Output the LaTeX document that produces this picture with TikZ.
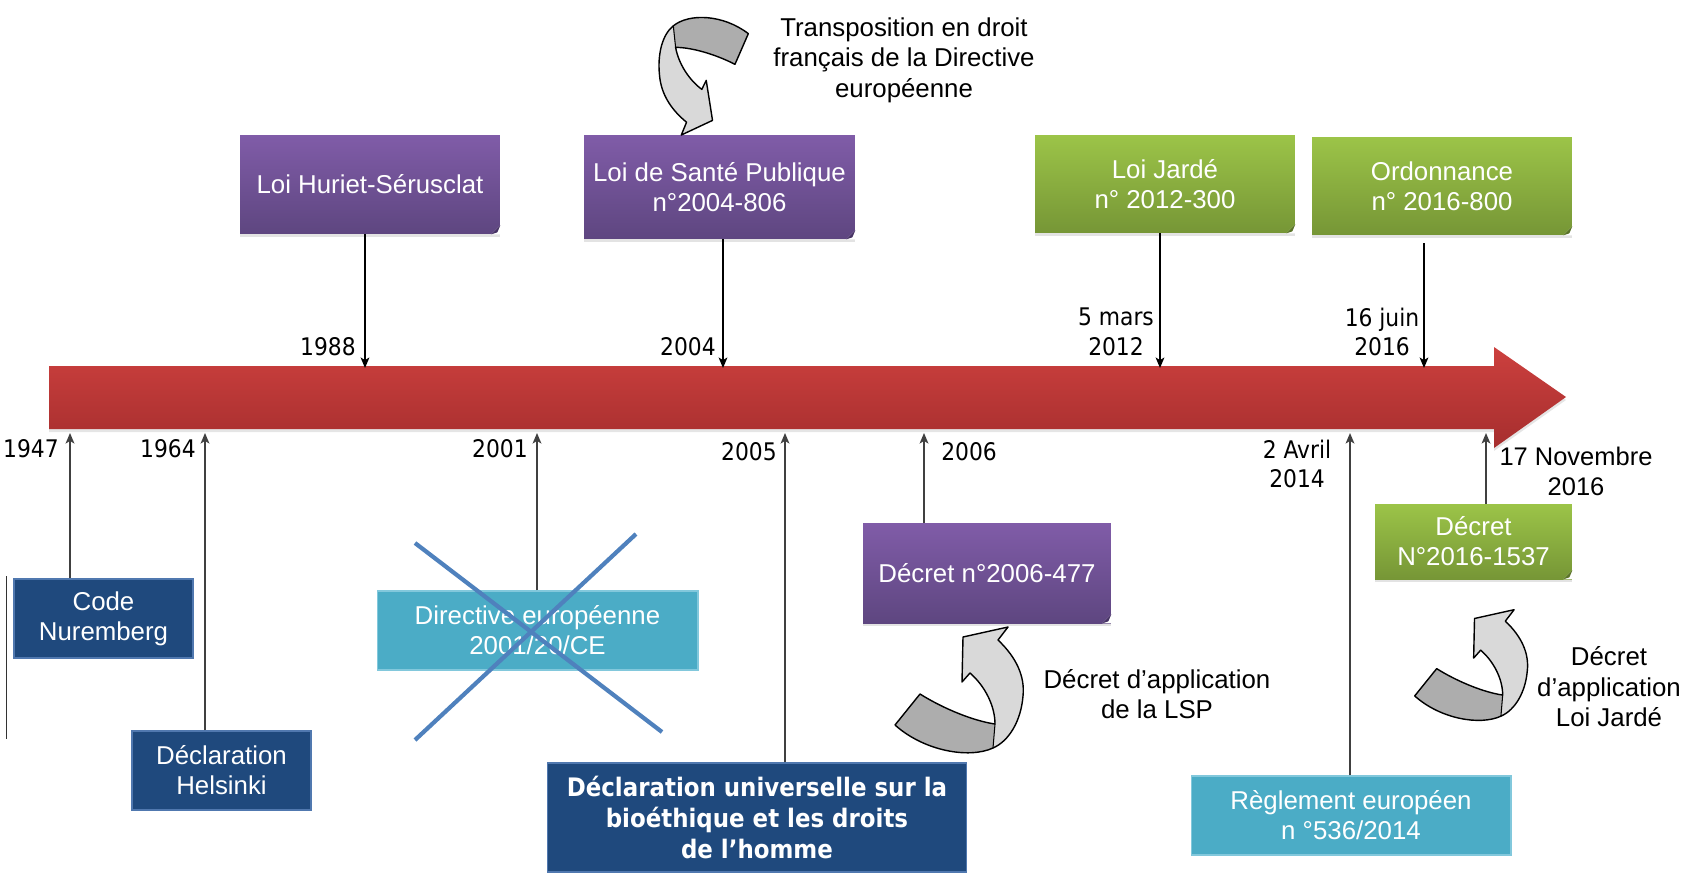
\documentclass[tikz,border=0pt]{standalone}
\usepackage{fontspec}
\setmainfont{Liberation Sans}
\newfontfamily\datefont{DejaVu Sans Condensed}
\usetikzlibrary{arrows.meta, shadows}

\definecolor{arrowtop}{RGB}{204,64,62}
\definecolor{arrowbot}{RGB}{166,46,46}
\definecolor{violettop}{RGB}{128,92,168}
\definecolor{violetbot}{RGB}{94,70,128}
\definecolor{violetfold}{RGB}{70,50,100}
\definecolor{greentop}{RGB}{156,196,72}
\definecolor{greenbot}{RGB}{118,150,54}
\definecolor{greenfold}{RGB}{90,115,40}
\definecolor{navy}{RGB}{31,73,125}
\definecolor{navyline}{RGB}{80,120,175}
\definecolor{aqua}{RGB}{75,172,198}
\definecolor{aqualine}{RGB}{130,200,220}
\definecolor{crossblue}{RGB}{79,129,189}

\newcommand{\boxfont}{\fontsize{14.7}{17}\selectfont}

% bent grey arrow, drawn round (0,0)
\newcommand{\bentarrow}{%
  \fill[black!15] (4,-54) -- (49,-64) -- (39,-51)
    .. controls (58,-33) and (66,-14) .. (64,5)
    .. controls (62,30) and (50,50) .. (34,57)
    .. controls (10,68) and (-35,60) .. (-64,34)
    -- (-39,3) .. controls (-15,18) and (15,30) .. (36,33)
    .. controls (36,15) and (26,-5) .. (11,-18) -- (3,-9) -- cycle;
  \fill[black!32] (-64,34) -- (-39,3) .. controls (-15,18) and (15,30) .. (36,33)
    -- (34,57) .. controls (10,68) and (-35,60) .. (-64,34) -- cycle;
  \draw[line width=0.8pt, line join=round] (4,-54) -- (49,-64) -- (39,-51)
    .. controls (58,-33) and (66,-14) .. (64,5)
    .. controls (62,30) and (50,50) .. (34,57)
    .. controls (10,68) and (-35,60) .. (-64,34)
    -- (-39,3) .. controls (-15,18) and (15,30) .. (36,33)
    .. controls (36,15) and (26,-5) .. (11,-18) -- (3,-9) -- cycle;
  \draw[line width=0.6pt] (36,33) -- (34,57);
}

\begin{document}
\begin{tikzpicture}[x=0.02cm, y=-0.02cm,
  lawbox/.style={rectangle, inner sep=0pt, text=white, align=center, font=\boxfont},
  violetbox/.style={lawbox, top color=violettop, bottom color=violetbot,
    drop shadow={shadow xshift=0pt, shadow yshift=-1.5pt, opacity=.22}},
  greenbox/.style={lawbox, top color=greentop, bottom color=greenbot,
    drop shadow={shadow xshift=0pt, shadow yshift=-1.5pt, opacity=.22}},
  navybox/.style={lawbox, fill=navy, draw=navyline, line width=0.6pt},
  aquabox/.style={lawbox, fill=aqua, draw=aqualine, line width=0.6pt},
  datelbl/.style={font={\datefont\fontsize{13.8}{17}\selectfont}, align=center, inner sep=0pt},
  notelbl/.style={font={\fontsize{14.7}{17.4}\selectfont}, align=center, inner sep=0pt},
  pindown/.style={-{Stealth[length=6pt,width=5pt,inset=1.5pt]}, line width=0.7pt},
  pinup/.style={-{Stealth[length=6pt,width=5pt,inset=1.5pt]}, line width=0.9pt, black!75}]
\useasboundingbox (0,0) rectangle (1691,880);

% Timeline
\fill[black, opacity=.1] (49,369) -- (1494,369) -- (1494,350) -- (1566,400) -- (1494,451) -- (1494,432) -- (49,432) -- cycle;
\shade[top color=arrowtop, bottom color=arrowbot] (49,366) -- (1494,366) -- (1494,347) -- (1566,397) -- (1494,448) -- (1494,429) -- (49,429) -- cycle;

\coordinate (t1988) at (365,368);
\coordinate (t2004) at (723,368);
\coordinate (t2012) at (1160,368);
\coordinate (t2016a) at (1424,368);
\coordinate (b1947) at (70,433);
\coordinate (b1964) at (205,433);
\coordinate (b2001) at (537,433);
\coordinate (b2005) at (785,433);
\coordinate (b2006) at (924,433);
\coordinate (b2014) at (1350,433);
\coordinate (b2016b) at (1486,433);

% Laws above
\node[violetbox, minimum width=5.2cm, minimum height=1.98cm] (huriet) at (370,184.5) {Loi Huriet-Sérusclat};
\node[violetbox, minimum width=5.42cm, minimum height=2.08cm] (lsp) at (719.5,187) {Loi de Santé Publique\\n°2004-806};
\node[greenbox, minimum width=5.2cm, minimum height=1.96cm] (jarde) at (1165,184) {Loi Jardé\\n° 2012-300};
\node[greenbox, minimum width=5.2cm, minimum height=1.96cm] (ordo) at (1442,186) {Ordonnance\\n° 2016-800};

% Texts below
\node[navybox, minimum width=3.58cm, minimum height=1.58cm] (nuremberg) at (103.5,618.5) {Code\\Nuremberg};
\node[navybox, minimum width=3.58cm, minimum height=1.58cm] (helsinki) at (221.5,770.5) {Déclaration\\Helsinki};
\node[aquabox, minimum width=6.42cm, minimum height=1.58cm] (directive) at (537.5,630.5) {Directive européenne\\2001/20/CE};
\node[navybox, minimum width=8.4cm, minimum height=2.18cm,
  font={\datefont\bfseries\fontsize{14.5}{17.7}\selectfont}] (unesco) at (757,817.5)
  {Déclaration universelle sur la\\bioéthique et les droits\\de l’homme};
\node[violetbox, minimum width=4.96cm, minimum height=2cm] (decret2006) at (987,573) {Décret n°2006-477};
\node[aquabox, minimum width=6.4cm, minimum height=1.58cm] (reglement) at (1351,815.5) {Règlement européen\\n °536/2014};
\node[greenbox, minimum width=3.94cm, minimum height=1.5cm] (decret2016) at (1473.5,541.5) {Décret\\N°2016-1537};

% folded corners
\foreach \n/\c in {huriet/violetfold, lsp/violetfold, decret2006/violetfold,
                   jarde/greenfold, ordo/greenfold, decret2016/greenfold} {
  \fill[white] (\n.south east) -- ++(-9,0) -- ++(9,-9) -- cycle;
  \fill[\c] (\n.south east) ++(-9,0) -- ++(9,-9) -- ++(-3,7) -- cycle;
}

% crossed out directive
\draw[crossblue, line width=2.4pt] (415,543) -- (662,732);
\draw[crossblue, line width=2.4pt] (636,534) -- (415,740);
\draw[black!80, line width=0.6pt] (6.5,576) -- (6.5,739);

% Dates
\node[datelbl, anchor=east] (l1988) at (356,347) {1988};
\node[datelbl, anchor=east] (l2004) at (716,347) {2004};
\node[datelbl] (l2012) at (1116,332) {5 mars\\2012};
\node[datelbl] (l2016a) at (1382,332) {16 juin\\2016};
\node[datelbl, anchor=east] (l1947) at (59,449) {1947};
\node[datelbl, anchor=east] (l1964) at (196,449) {1964};
\node[datelbl, anchor=east] (l2001) at (528,449) {2001};
\node[datelbl, anchor=east] (l2005) at (777,452) {2005};
\node[datelbl, anchor=west] (l2006) at (941,452) {2006};
\node[datelbl] (l2014) at (1297,464) {2 Avril\\2014};
\node[notelbl, font={\fontsize{14.5}{17}\selectfont}] (l2016b) at (1576,471) {17 Novembre\\2016};

% Links
\draw[pindown] (t1988 |- huriet.south) -- (t1988);
\draw[pindown] (t2004 |- lsp.south) -- (t2004);
\draw[pindown] (t2012 |- jarde.south) -- (t2012);
\draw[pindown, shorten <=4.5pt] (t2016a |- ordo.south) -- (t2016a);
\draw[pinup] (b1947 |- nuremberg.north) -- (b1947);
\draw[pinup] (b1964 |- helsinki.north) -- (b1964);
\draw[pinup] (b2001 |- directive.north) -- (b2001);
\draw[pinup] (b2005 |- unesco.north) -- (b2005);
\draw[pinup] (b2006 |- decret2006.north) -- (b2006);
\draw[pinup] (b2014 |- reglement.north) -- (b2014);
\draw[pinup] (b2016b |- decret2016.north) -- (b2016b);

% Bent arrows and notes
\begin{scope}[shift={(707,72)}, rotate=190, xscale=0.74, yscale=0.9]
  \bentarrow
\end{scope}
\begin{scope}[shift={(959,691)}]
  \bentarrow
\end{scope}
\begin{scope}[shift={(1471,666)}, scale=0.88]
  \bentarrow
\end{scope}
\node[notelbl] (transpo) at (904,60) {Transposition en droit\\français de la Directive\\européenne};
\node[notelbl] (applsp) at (1157,694) {Décret d’application\\de la LSP};
\node[notelbl] (appjarde) at (1609,687) {Décret\\d’application\\Loi Jardé};
\end{tikzpicture}
\end{document}
